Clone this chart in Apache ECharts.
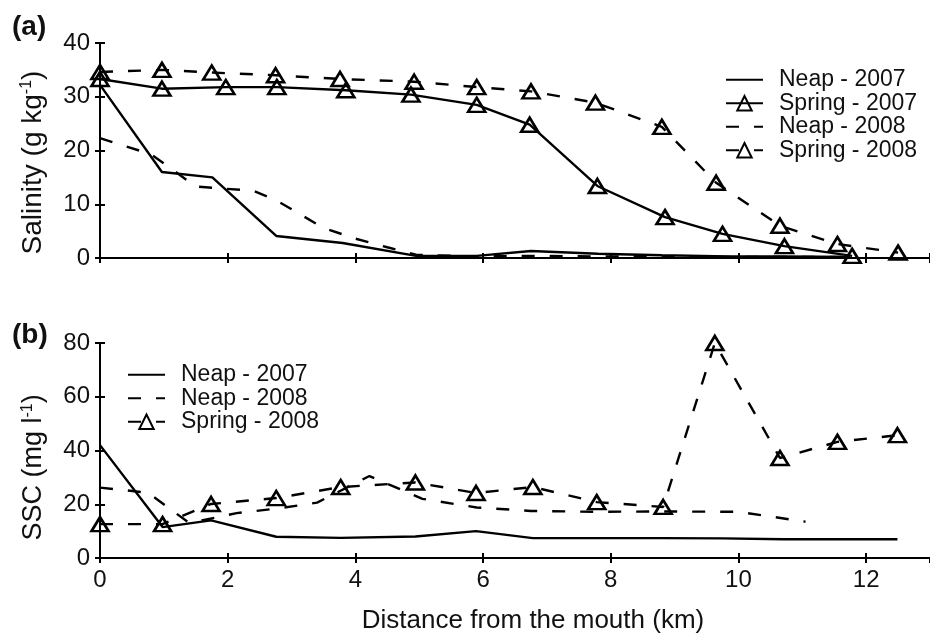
<!DOCTYPE html>
<html>
<head>
<meta charset="utf-8">
<script src="https://cdn.jsdelivr.net/npm/echarts@6/dist/echarts.min.js"></script>
<style>
  html, body { margin: 0; padding: 0; background: #fff; }
  #chart { width: 930px; height: 644px; }
</style>
</head>
<body>
<div id="chart"></div>
<script>
// ---- Data (distance km, value) ----
const salNeap2007 = [[0,32.2],[0.97,16.0],[1.76,15.0],[2.76,4.1],[3.8,2.8],[4.95,0.4],[5.9,0.4],[6.75,1.3],[7.8,0.8],[8.8,0.5],[9.85,0.3],[10.7,0.3],[11.75,0.2]];
const salSpring2007 = [[0,33.3],[0.97,31.5],[1.97,31.8],[2.77,31.8],[3.85,31.2],[4.87,30.4],[5.9,28.5],[6.73,24.8],[7.79,13.4],[8.85,7.6],[9.75,4.5],[10.72,2.2],[11.78,0.4]];
const salNeap2008 = [[0,22.3],[0.8,19.3],[1.5,13.3],[2.4,12.5],[2.75,10.8],[3.5,5.6],[4.0,3.6],[4.5,2.0],[4.95,0.6],[5.9,0.3],[6.75,0.4],[7.8,0.3],[8.8,0.3],[9.85,0.2],[10.7,0.2],[11.7,0.2]];
const salSpring2008 = [[0,34.6],[0.97,35.0],[1.75,34.5],[2.75,34.0],[3.76,33.3],[4.92,32.8],[5.9,31.8],[6.75,31.0],[7.76,28.9],[8.8,24.4],[9.65,14.0],[10.65,6.0],[11.55,2.6],[12.5,1.0]];

const sscNeap2007 = [[0,42],[0.98,11.5],[1.74,14.0],[2.76,7.9],[3.77,7.5],[4.94,8.0],[5.89,10.0],[6.78,7.4],[7.8,7.4],[8.8,7.4],[9.75,7.3],[10.7,7.0],[11.6,7.0],[12.49,7.0]];
const sscNeap2008 = [[0,26.2],[0.75,24.3],[1.4,13.0],[2.14,16.7],[2.84,18.6],[3.4,20.6],[4.22,30.5],[5.05,22.0],[5.9,18.8],[6.75,17.5],[7.75,17.2],[8.8,17.3],[10.0,17.2],[11.05,13.5]];
const sscSpring2008 = [[0,12.6],[0.98,12.6],[1.74,20.1],[2.76,22.3],[3.77,26.4],[4.94,28.1],[5.89,24.2],[6.78,26.4],[7.78,20.8],[8.82,19.0],[9.63,80],[10.65,37.2],[11.55,43.2],[12.49,45.7]];

// ---- Axis ranges / labels ----
const xRange = [0, 13], xStep = 2;
const salRange = [0, 40], salStep = 10;
const sscRange = [0, 80], sscStep = 20;
const topLegend = ['Neap - 2007', 'Spring - 2007', 'Neap - 2008', 'Spring - 2008'];
const bottomLegend = ['Neap - 2007', 'Neap - 2008', 'Spring - 2008'];
const noMarkerNames = ['Neap - 2007', 'Neap - 2008'];
const xTitle = 'Distance from the mouth (km)';
const salTitle = 'Salinity (g kg{sup|-1})';
const sscTitle = 'SSC (mg l{sup|-1})';
const panelLabels = ['(a)', '(b)'];

const FONT = "'Liberation Sans', Arial, Helvetica, sans-serif";
const TXT = '#111';

const axisLineStyle = { show: true, lineStyle: { color: '#000', width: 2 } };
const tickStyle = { show: true, inside: true, length: 5, lineStyle: { color: '#000', width: 2 } };

function xAxes(gridIndex, showLabels) {
  return [
    {
      type: 'value', gridIndex, min: xRange[0], max: xRange[1], interval: xStep,
      position: 'bottom',
      axisLine: axisLineStyle, axisTick: tickStyle, splitLine: { show: false },
      axisLabel: { show: showLabels, showMaxLabel: false, fontSize: 24, color: TXT, fontFamily: FONT, margin: 10 },
      name: showLabels ? xTitle : '', nameLocation: 'middle', nameGap: 50,
      nameTextStyle: { fontSize: 26, color: TXT, fontFamily: FONT, padding: [0, 0, 0, 36] }
    },
    {
      type: 'value', gridIndex, min: xRange[0], max: xRange[1], interval: xStep,
      position: 'top',
      axisLine: axisLineStyle, axisTick: tickStyle, splitLine: { show: false },
      axisLabel: { show: false }
    }
  ];
}

function yAxes(gridIndex, range, step, title, shift, fs) {
  return [
    {
      type: 'value', gridIndex, min: range[0], max: range[1], interval: step,
      position: 'left',
      axisLine: axisLineStyle, axisTick: tickStyle, splitLine: { show: false },
      axisLabel: { fontSize: 24, color: TXT, fontFamily: FONT, margin: 10 },
      name: title, nameLocation: 'middle', nameGap: 53, nameRotate: 90,
      nameTextStyle: {
        fontSize: fs, color: TXT, fontFamily: FONT, padding: [0, shift, 0, 0],
        rich: { sup: { fontSize: 16, color: TXT, fontFamily: FONT, verticalAlign: 'top', lineHeight: fs } }
      }
    },
    {
      type: 'value', gridIndex, min: range[0], max: range[1], interval: step,
      position: 'right',
      axisLine: axisLineStyle, axisTick: tickStyle, splitLine: { show: false },
      axisLabel: { show: false }
    }
  ];
}

const DASH = [13, 15];
const triStyle = { color: 'rgba(255,255,255,0)', borderColor: '#000', borderWidth: 2.6 };

function mkSeries(name, data, xi, yi, dashed, markers) {
  return {
    name, type: 'line', data, xAxisIndex: xi, yAxisIndex: yi,
    showSymbol: markers, symbol: markers ? 'triangle' : 'none', symbolSize: [17, 14],
    itemStyle: markers ? triStyle : { color: '#000' },
    lineStyle: { color: '#000', width: 2.4, type: dashed ? DASH : 'solid', cap: 'butt' },
    z: markers ? 3 : 2,
    silent: true
  };
}

function legendData(names) {
  return names.map(n => noMarkerNames.includes(n)
    ? { name: n, itemStyle: { color: 'rgba(0,0,0,0)', borderWidth: 0, opacity: 0 } }
    : { name: n });
}

const legendCommon = {
  orient: 'vertical', padding: 0, itemWidth: 37, itemHeight: 18, itemGap: 0, selectedMode: false,
  textStyle: { fontSize: 23, color: TXT, fontFamily: FONT, lineHeight: 23.5, padding: [0, 0, 0, 11] }
};

const chart = echarts.init(document.getElementById('chart'), null, { renderer: 'canvas' });
chart.setOption({
  animation: false,
  backgroundColor: '#fff',
  title: [
    { text: panelLabels[0], left: 12, top: 13, padding: 0, textStyle: { fontSize: 28, fontWeight: 'bold', color: TXT, fontFamily: FONT } },
    { text: panelLabels[1], left: 12, top: 321, padding: 0, textStyle: { fontSize: 28, fontWeight: 'bold', color: TXT, fontFamily: FONT } }
  ],
  grid: [
    { left: 100, top: 43, width: 832, height: 215 },
    { left: 100, top: 343, width: 832, height: 215 }
  ],
  xAxis: [...xAxes(0, false), ...xAxes(1, true)],
  yAxis: [...yAxes(0, salRange, salStep, salTitle, 24, 28), ...yAxes(1, sscRange, sscStep, sscTitle, 34, 27)],
  legend: [
    Object.assign({ data: legendData(topLegend), left: 725, top: 68 }, legendCommon),
    Object.assign({ data: legendData(bottomLegend), left: 127, top: 363 }, legendCommon)
  ],
  series: [
    mkSeries('Neap - 2007', salNeap2007, 0, 0, false, false),
    mkSeries('Spring - 2007', salSpring2007, 0, 0, false, true),
    mkSeries('Neap - 2008', salNeap2008, 0, 0, true, false),
    mkSeries('Spring - 2008', salSpring2008, 0, 0, true, true),
    mkSeries('Neap - 2007', sscNeap2007, 2, 2, false, false),
    mkSeries('Neap - 2008', sscNeap2008, 2, 2, true, false),
    mkSeries('Spring - 2008', sscSpring2008, 2, 2, true, true)
  ]
});
</script>
</body>
</html>
